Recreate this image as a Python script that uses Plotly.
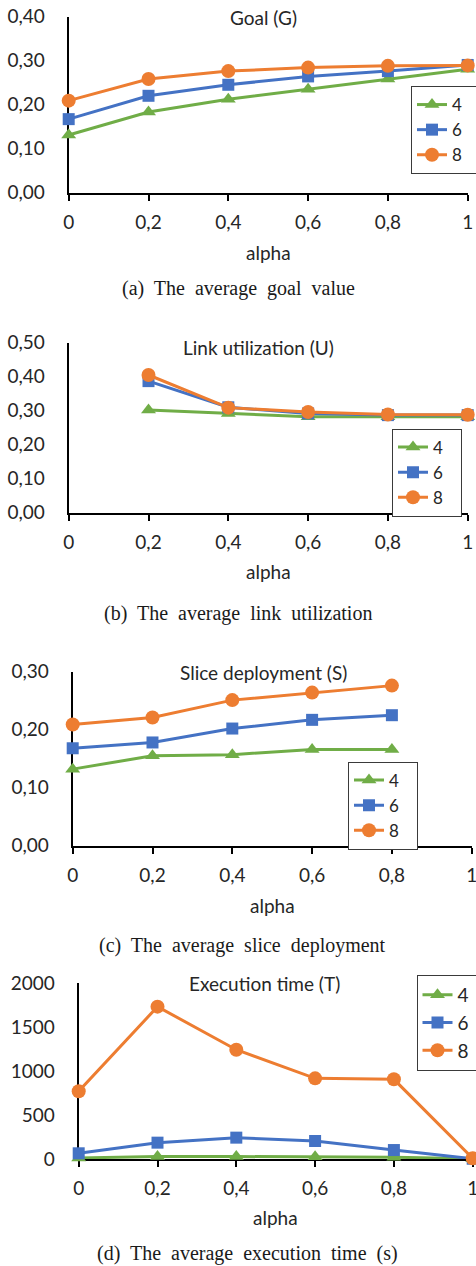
import plotly.graph_objects as go

W, H = 476, 1266

alpha = [0, 0.2, 0.4, 0.6, 0.8, 1]
x_ticktext = ["0", "0,2", "0,4", "0,6", "0,8", "1"]
series_names = ["4", "6", "8"]

# (a) Goal
goal_4 = [0.131, 0.183, 0.212, 0.235, 0.258, 0.280]
goal_6 = [0.167, 0.220, 0.245, 0.264, 0.276, 0.290]
goal_8 = [0.209, 0.258, 0.276, 0.284, 0.288, 0.289]
goal_yticks = [0, 0.1, 0.2, 0.3, 0.4]
goal_ytext = ["0,00", "0,10", "0,20", "0,30", "0,40"]

# (b) Link utilization (no value at alpha=0)
link_4 = [None, 0.302, 0.292, 0.282, 0.282, 0.282]
link_6 = [None, 0.387, 0.310, 0.292, 0.287, 0.287]
link_8 = [None, 0.405, 0.309, 0.296, 0.289, 0.288]
link_yticks = [0, 0.1, 0.2, 0.3, 0.4, 0.5]
link_ytext = ["0,00", "0,10", "0,20", "0,30", "0,40", "0,50"]

# (c) Slice deployment (no value at alpha=1)
slice_4 = [0.132, 0.155, 0.157, 0.166, 0.166, None]
slice_6 = [0.168, 0.178, 0.202, 0.217, 0.225, None]
slice_8 = [0.209, 0.221, 0.251, 0.264, 0.276, None]
slice_yticks = [0, 0.1, 0.2, 0.3]
slice_ytext = ["0,00", "0,10", "0,20", "0,30"]

# (d) Execution time
time_4 = [12, 28, 28, 25, 20, 4]
time_6 = [65, 186, 243, 205, 102, 3]
time_8 = [771, 1734, 1244, 918, 907, 8]
time_yticks = [0, 500, 1000, 1500, 2000]
time_ytext = ["0", "500", "1000", "1500", "2000"]

titles = ["Goal (G)", "Link utilization (U)", "Slice deployment (S)", "Execution time (T)"]
captions = ["(a) The average goal value", "(b) The average link utilization",
            "(c) The average slice deployment", "(d) The average execution time (s)"]

colors = ["#70AD47", "#4472C4", "#ED7D31"]
symbols = ["triangle-up", "square", "circle"]
msizes = [13, 12, 14]

SANS = "Lato, 'Open Sans', sans-serif"
SERIF = "'Liberation Serif', 'DejaVu Serif', serif"
FS = 19


def px(x):
    return x / W


def py(y):
    return 1 - y / H


def spaced(s):
    # LaTeX-like wide inter-word spacing
    return s.replace(" ", "\u00a0 ")


# pixel geometry of each panel: x-left, x-right, y-top, y-bottom
panels = [
    dict(x0=68.7, x1=467.7, yt=16.5, yb=192.7, yr=[0, 0.4], yt_v=goal_yticks, yt_t=goal_ytext,
         data=[goal_4, goal_6, goal_8], title=(263, 17), alpha=(268, 252), cap=(238, 288),
         leg=(411, 86), legfs=17, pad=3),
    dict(x0=68.7, x1=467.7, yt=342.7, yb=512.7, yr=[0, 0.5], yt_v=link_yticks, yt_t=link_ytext,
         data=[link_4, link_6, link_8], title=(258, 348), alpha=(268, 572), cap=(238, 613),
         leg=(392, 428.5), legfs=17, pad=3),
    dict(x0=72.7, x1=471.7, yt=671.7, yb=845.7, yr=[0, 0.3], yt_v=slice_yticks, yt_t=slice_ytext,
         data=[slice_4, slice_6, slice_8], title=(263, 672), alpha=(272, 905), cap=(243, 945),
         leg=(348, 761.5), legfs=17, pad=3),
    dict(x0=78.7, x1=472.7, yt=983.3, yb=1159, yr=[0, 2000], yt_v=time_yticks, yt_t=time_ytext,
         data=[time_4, time_6, time_8], title=(264, 983), alpha=(275, 1217), cap=(247, 1253),
         leg=(416.5, 975), legfs=19, pad=1),
]

fig = go.Figure()
annotations = []
layout = {}

for i, p in enumerate(panels):
    n = "" if i == 0 else str(i + 1)
    xa, ya = "x" + n, "y" + n
    legname = "legend" + n
    for j in range(3):
        fig.add_trace(go.Scatter(
            x=alpha, y=p["data"][j], name=series_names[j] + "\u00a0" * p["pad"],
            mode="lines+markers",
            line=dict(color=colors[j], width=3),
            marker=dict(symbol=symbols[j], size=msizes[j], color=colors[j]),
            xaxis=xa, yaxis=ya, legend=legname, cliponaxis=False,
            connectgaps=False,
        ))
    layout["xaxis" + n] = dict(
        domain=[px(p["x0"]), px(p["x1"])], anchor=ya, range=[0, 1],
        tickvals=alpha, ticktext=x_ticktext, showgrid=False, zeroline=False,
        showline=True, linecolor="black", linewidth=2, ticks="outside", ticklen=6,
        tickwidth=2, tickcolor="black", ticklabelstandoff=5, ticklabeloverflow="allow",
        tickfont=dict(family=SANS, size=FS, color="#262626"), layer="below traces",
        fixedrange=True,
    )
    layout["yaxis" + n] = dict(
        domain=[py(p["yb"]), py(p["yt"])], anchor=xa, range=p["yr"],
        tickvals=p["yt_v"], ticktext=p["yt_t"], showgrid=False, zeroline=False,
        showline=True, linecolor="black", linewidth=2, ticks="",
        ticklabelstandoff=18, ticklabeloverflow="allow",
        tickfont=dict(family=SANS, size=FS, color="#262626"), layer="below traces",
        fixedrange=True,
    )
    layout[legname] = dict(
        x=px(p["leg"][0]), y=py(p["leg"][1]), xanchor="left", yanchor="top",
        xref="paper", yref="paper",
        bgcolor="white", bordercolor="#3a3a3a", borderwidth=1,
        font=dict(family=SANS, size=p["legfs"], color="#262626"),
        traceorder="normal", tracegroupgap=0, itemwidth=30,
    )
    annotations.append(dict(text=titles[i], x=px(p["title"][0]),
                            y=py(p["title"][1]), xref="paper", yref="paper",
                            xanchor="center", yanchor="middle", showarrow=False,
                            font=dict(family=SANS, size=FS, color="#262626")))
    annotations.append(dict(text="alpha", x=px(p["alpha"][0]), y=py(p["alpha"][1]),
                            xref="paper", yref="paper", xanchor="center", yanchor="middle",
                            showarrow=False, font=dict(family=SANS, size=FS, color="#262626")))
    annotations.append(dict(text=spaced(captions[i]), x=px(p["cap"][0]), y=py(p["cap"][1]),
                            xref="paper", yref="paper", xanchor="center", yanchor="middle",
                            showarrow=False, font=dict(family=SERIF, size=20, color="#1a1a1a")))

fig.update_layout(
    width=W, height=H,
    margin=dict(l=0, r=0, t=0, b=0, pad=0, autoexpand=False),
    paper_bgcolor="white", plot_bgcolor="white",
    showlegend=True,
    annotations=annotations,
    **layout,
)

fig.write_html(
    "out.html",
    config={"displayModeBar": False, "staticPlot": True},
    post_script="document.body.style.margin='0';document.body.style.overflow='hidden';",
)
